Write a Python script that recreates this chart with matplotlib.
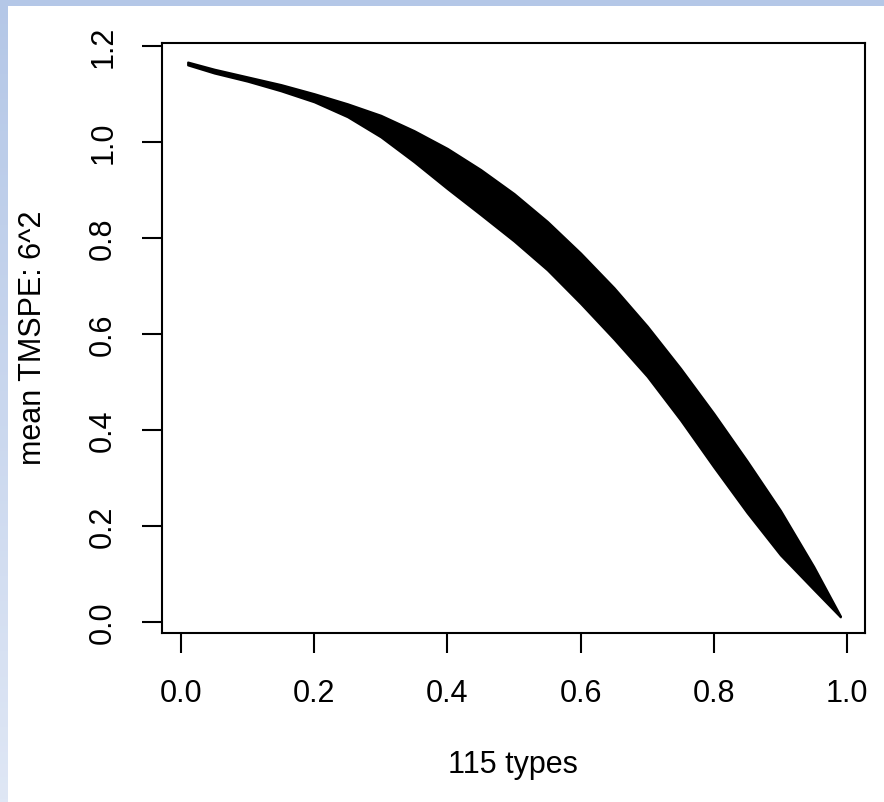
import numpy as np
import matplotlib
matplotlib.use("Agg")
import matplotlib.pyplot as plt
from matplotlib.patches import Rectangle
from matplotlib.colors import LinearSegmentedColormap

# ---- data (envelope of the dense point cloud) ----
x_vals = [0.01, 0.05, 0.10, 0.15, 0.20, 0.25, 0.30, 0.35, 0.40, 0.45, 0.50,
          0.55, 0.60, 0.65, 0.70, 0.75, 0.80, 0.85, 0.90, 0.95, 0.99]
upper_vals = [1.166, 1.151, 1.135, 1.119, 1.100, 1.079, 1.055, 1.023, 0.986,
              0.942, 0.892, 0.834, 0.768, 0.696, 0.616, 0.528, 0.434, 0.335,
              0.232, 0.115, 0.012]
lower_vals = [1.160, 1.143, 1.126, 1.106, 1.083, 1.052, 1.010, 0.958, 0.902,
              0.848, 0.793, 0.733, 0.663, 0.589, 0.511, 0.420, 0.322, 0.227,
              0.139, 0.067, 0.010]
x_ticks = [0.0, 0.2, 0.4, 0.6, 0.8, 1.0]
x_tick_labels = ["0.0", "0.2", "0.4", "0.6", "0.8", "1.0"]
y_ticks = [0.0, 0.2, 0.4, 0.6, 0.8, 1.0, 1.2]
y_tick_labels = ["0.0", "0.2", "0.4", "0.6", "0.8", "1.0", "1.2"]
x_label = "115 types"
y_label = "mean TMSPE: 6^2"

plt.rcParams['font.family'] = ['Liberation Sans', 'DejaVu Sans']

W, H = 884, 803
fig = plt.figure(figsize=(W / 100, H / 100), dpi=100)
fig.patch.set_facecolor("white")

# slide-like light blue border (top strip + left gradient strip)
fig.patches.append(Rectangle((0, 1 - 7 / H), 1, 7 / H, transform=fig.transFigure,
                             facecolor="#b4c7e7", edgecolor="none", zorder=0))
bg = fig.add_axes([0, 0, 8 / W, 1])
grad = np.linspace(0, 1, 256).reshape(-1, 1)
cm = LinearSegmentedColormap.from_list("b", ["#b4c7e7", "#dfe7f5"])
bg.imshow(grad, aspect="auto", cmap=cm, extent=[0, 1, 0, 1], origin="upper")
bg.axis("off")

left, right, top, bottom = 162, 865, 44, 634
ax = fig.add_axes([left / W, 1 - bottom / H, (right - left) / W, (bottom - top) / H])

ax.fill_between(x_vals, lower_vals, upper_vals, facecolor="black",
                edgecolor="black", linewidth=1.5, joinstyle="round")

ax.set_xlim(-0.0285, 1.027)
ax.set_ylim(-0.0236, 1.2056)

ax.set_xticks(x_ticks)
ax.set_xticklabels(x_tick_labels)
ax.set_yticks(y_ticks)
ax.set_yticklabels(y_tick_labels, rotation=90, va="center")

ax.tick_params(axis="both", direction="out", length=14.5, width=1.5,
               labelsize=22, colors="black")
ax.tick_params(axis="x", pad=18)
ax.tick_params(axis="y", pad=17)
for s in ax.spines.values():
    s.set_linewidth(1.5)

fig.text(513 / W, 1 - 765 / H, x_label, ha="center", va="center", fontsize=22)
fig.text(33 / W, 1 - 338 / H, y_label, ha="center", va="center",
         rotation=90, fontsize=22)

fig.savefig("out.png", dpi=100)
